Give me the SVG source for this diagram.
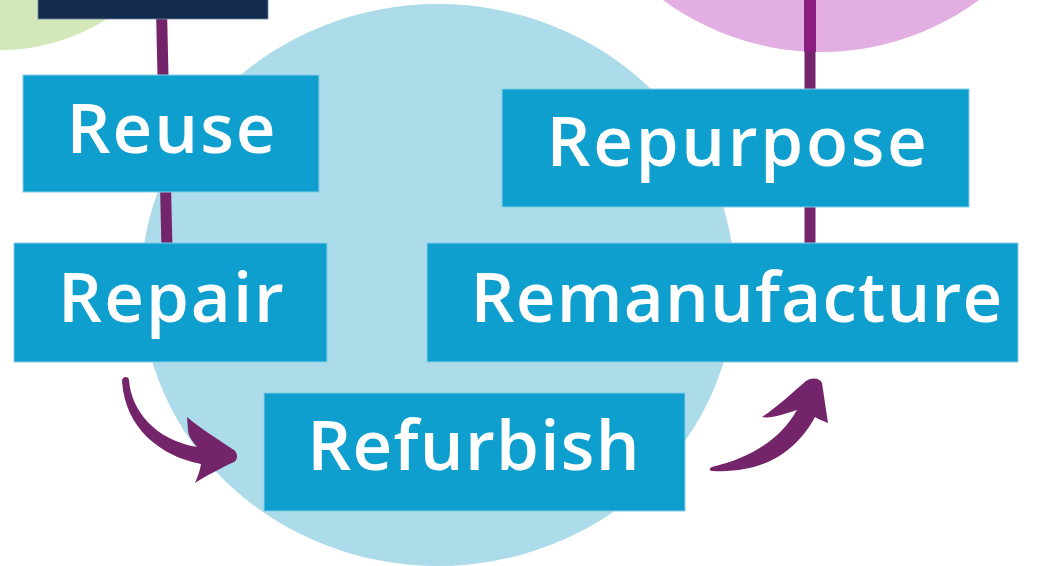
<svg xmlns="http://www.w3.org/2000/svg" width="1048" height="566" viewBox="0 0 1048 566">
  <style>
    .box { fill: #0e9fce; stroke: #86cde6; stroke-width: 1; }
    .lbl { fill: #ffffff; font-family: "Open Sans", Lato, sans-serif; font-weight: 600; font-size: 69px; letter-spacing: 2px; text-anchor: middle; }
    .link { stroke: #74246a; stroke-width: 11; fill: none; }
    .arrow { fill: #74246a; }
  </style>
  <defs>
    <clipPath id="pinkClip"><circle cx="821" cy="-214" r="266"/></clipPath>
  </defs>
  <rect width="1048" height="566" fill="#ffffff"/>
  <g id="background">
    <circle cx="0" cy="-150" r="200" fill="#d3e8b8"/>
    <circle cx="821" cy="-214" r="266" fill="#e3aee1"/>
    <ellipse cx="438" cy="285" rx="297" ry="281" fill="#acdcea"/>
  </g>
  <g id="connectors">
    <line class="link" x1="161.5" y1="10" x2="167" y2="250"/>
    <line class="link" x1="810" y1="0" x2="810" y2="250" stroke-width="12"/>
    <line x1="810" y1="0" x2="810" y2="60" stroke="#8b1e80" stroke-width="12" clip-path="url(#pinkClip)"/>
    <path class="arrow" d="M 122,381 C 122,376 129,376 129,380 C 131,410 155,440 197,447 C 193,442 188,436 188,430 L 187,417 C 200,428 219,440 234,450 C 238,453 238,460 234,462 C 221,468 206,476 195,483 C 198,476 200,470 201,464 C 160,456 125,428 122,381 Z"/>
    <path class="arrow" d="M 712,467 C 750,458 780,440 797,410 C 785,414 770,419 762,417 C 780,405 795,390 806,381 C 812,377 820,378 822,383 L 828,423 C 823,421 818,419 815,417 C 800,445 770,474 713,471 C 709,471 709,468 712,467 Z"/>
  </g>
  <g id="top-node">
    <rect x="38" y="-2" width="230" height="21" fill="#132c4d" stroke="#6f86a3" stroke-width="0.8"/>
  </g>
  <g id="reuse">
    <rect class="box" x="23" y="75" width="296" height="117"/>
    <text class="lbl" x="172" y="153">Reuse</text>
  </g>
  <g id="repair">
    <rect class="box" x="14" y="243" width="313" height="119"/>
    <text class="lbl" x="172" y="322">Repair</text>
  </g>
  <g id="repurpose">
    <rect class="box" x="502" y="89" width="467" height="118"/>
    <text class="lbl" x="738" y="166" style="letter-spacing:2.7px">Repurpose</text>
  </g>
  <g id="remanufacture">
    <rect class="box" x="427" y="243" width="591" height="119"/>
    <text class="lbl" x="737" y="322" style="letter-spacing:1.2px">Remanufacture</text>
  </g>
  <g id="refurbish">
    <rect class="box" x="264" y="393" width="421" height="118"/>
    <text class="lbl" x="474" y="470" style="letter-spacing:1.3px">Refurbish</text>
  </g>
</svg>
